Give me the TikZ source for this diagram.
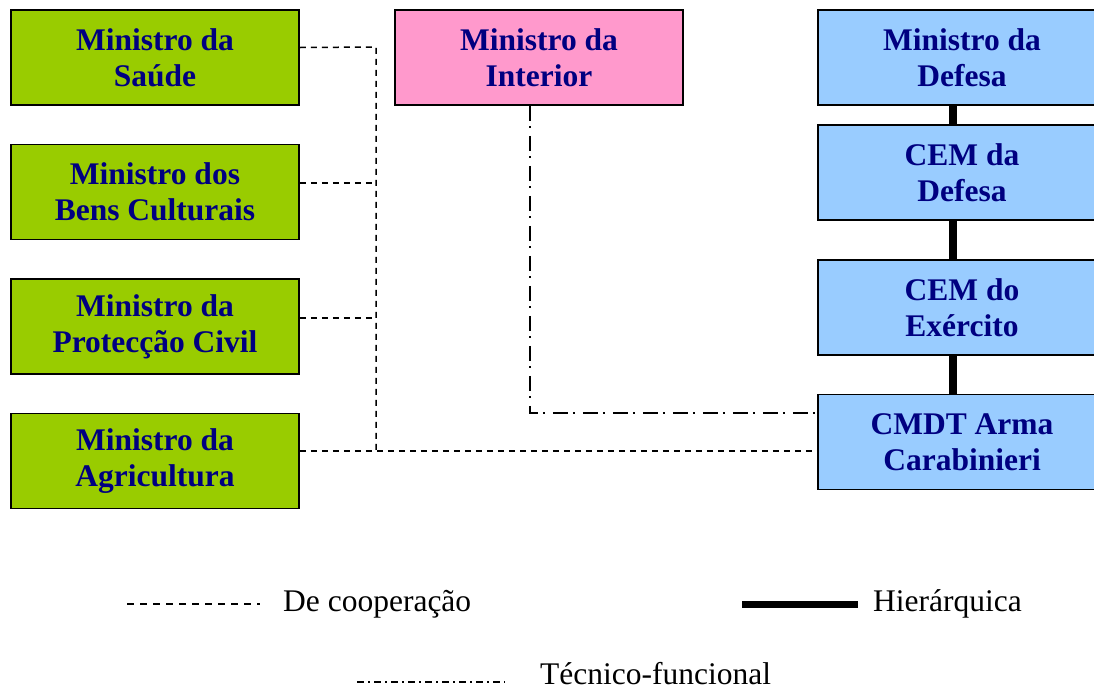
\documentclass[tikz,border=0pt]{standalone}
\usepackage{fontspec}
\setmainfont{Liberation Serif}
\definecolor{gfill}{HTML}{99CC00}
\definecolor{pfill}{HTML}{FF99CC}
\definecolor{bfill}{HTML}{99CCFF}
\definecolor{navy}{HTML}{000080}
\begin{document}
\begin{tikzpicture}[x=1pt,y=-1pt,
  box/.style={draw=black,line width=1.8pt,minimum width=288pt,minimum height=95pt,inner sep=0pt,
    align=center,text=navy,font=\bfseries\fontsize{31.5}{36}\selectfont},
  gbox/.style={box,fill=gfill},
  pbox/.style={box,fill=pfill},
  bbox/.style={box,fill=bfill},
  coop/.style={line width=1.5pt,dash pattern=on 6pt off 5pt},
  tecn/.style={line width=1.5pt,dash pattern=on 15pt off 5pt on 2pt off 8pt},
  tecnleg/.style={line width=1.5pt,dash pattern=on 7pt off 4pt on 2pt off 4pt},
  hier/.style={line width=8pt},
  leg/.style={anchor=west,inner sep=0pt,font=\fontsize{31.5}{36}\selectfont}]
\useasboundingbox (0,0) rectangle (1094,691);
\fill[white] (0,0) rectangle (1094,691);
% green
\node[gbox] (saude) at (155,57.5) {Ministro da\\Saúde};
\node[gbox] (bens) at (155,192) {Ministro dos\\Bens Culturais};
\node[gbox] (prot) at (155,326.5) {Ministro da\\Protecção Civil};
\node[gbox] (agri) at (155,461) {Ministro da\\Agricultura};
% pink
\node[pbox] (inter) at (539,57.5) {Ministro da\\Interior};
% blue
\node[bbox] (mdef) at (962,57.5) {Ministro da\\Defesa};
\node[bbox] (cemdef) at (962,172.5) {CEM da\\Defesa};
\node[bbox] (cemex) at (962,307.5) {CEM do\\Exército};
\node[bbox] (cmdt) at (962,442) {CMDT Arma\\Carabinieri};
% hierarchy
\draw[hier] ([xshift=-9pt]mdef.south) -- ([xshift=-9pt]cemdef.north);
\draw[hier] ([xshift=-9pt]cemdef.south) -- ([xshift=-9pt]cemex.north);
\draw[hier] ([xshift=-9pt]cemex.south) -- ([xshift=-9pt]cmdt.north);
% cooperation
\coordinate (jt) at (376,47);
\coordinate (jb) at (376,451);
\draw[coop] ([yshift=10pt]saude.east) -- (jt) -- (jb);
\draw[coop] ([yshift=9pt]bens.east) -- ([yshift=9pt]bens.east -| jt);
\draw[coop] ([yshift=8.5pt]prot.east) -- ([yshift=8.5pt]prot.east -| jt);
\draw[coop] ([yshift=10pt]agri.east) -- ([yshift=10pt]agri.east -| cmdt.west);
% technical
\draw[tecn] ([xshift=-9pt]inter.south) |- ([yshift=29pt]cmdt.west);
% legend
\coordinate (l1a) at (127,604); \coordinate (l1b) at (260,604);
\draw[coop,dash pattern=on 7pt off 6pt] (l1a) -- (l1b);
\node[leg] (t1) at (283,604) {De cooperação};
\coordinate (l2a) at (742,604); \coordinate (l2b) at (858,604);
\draw[line width=7pt] (l2a) -- (l2b);
\node[leg] (t2) at (873,604) {Hierárquica};
\coordinate (l3a) at (357,682); \coordinate (l3b) at (505,682);
\draw[tecnleg] (l3a) -- (l3b);
\node[leg] (t3) at (540,674) {Técnico-funcional};
\end{tikzpicture}
\end{document}
